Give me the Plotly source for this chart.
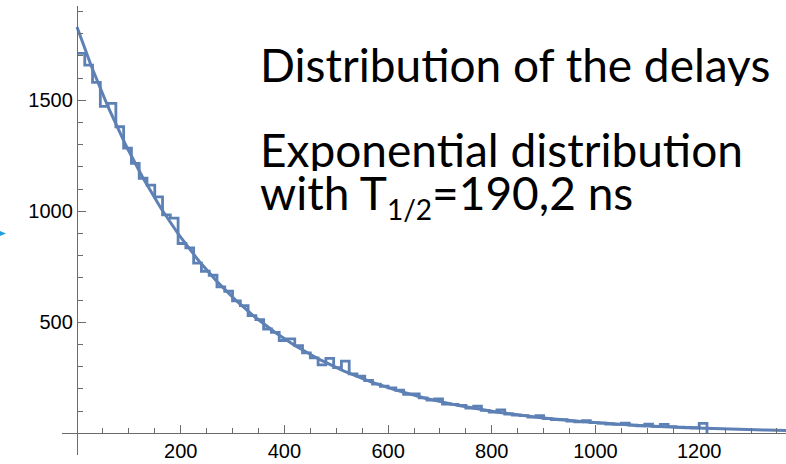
import numpy as np
import plotly.graph_objects as go

# ---- data ----
BIN_WIDTH = 15  # ns per histogram bin
counts = [1712, 1659, 1581, 1473, 1486, 1381, 1285, 1216, 1149, 1118,
          1065, 984, 969, 855, 835, 767, 730, 712, 660, 640,
          597, 575, 530, 512, 470, 455, 418, 425, 395, 362,
          340, 308, 338, 296, 325, 268, 258, 238, 222, 212,
          205, 194, 176, 178, 160, 150, 155, 132, 130, 126,
          114, 122, 103, 96, 106, 87, 82, 80, 73, 80,
          66, 62, 61, 55, 52, 57, 48, 46, 42, 40,
          46, 37, 34, 41, 31, 40, 30, 28, 27, 25, 45]

FIT_AMPLITUDE = 1830.0   # counts at t = 0
HALF_LIFE_NS = 190.2     # T1/2 from the fit

x_major = [200, 400, 600, 800, 1000, 1200]
x_minor = [v for v in range(50, 1351, 50) if v % 200 != 0]
y_major = [500, 1000, 1500]
y_minor = [v for v in range(100, 1901, 100) if v % 500 != 0]

title_lines = ["Distribution of the delays",
               "Exponential distribution",
               "with T<sub><span style='font-size:28px'>1/2</span></sub>=190,2 ns"]

# ---- derived ----
edges = [i * BIN_WIDTH for i in range(len(counts) + 1)]
step_x = edges
step_y = counts + [0]

X_RANGE = [-28.9, 1367.4]
Y_RANGE = [-97.7, 1925.0]
fit_x = np.linspace(0, X_RANGE[1], 400)
fit_y = FIT_AMPLITUDE * np.exp(-np.log(2) * fit_x / HALF_LIFE_NS)

BLUE = "#5e81b5"
AX = "#6b6b6b"
TICKFONT = dict(family="Liberation Sans, Arial, sans-serif", size=20, color="black")
TEXTFONT = dict(family="Lato, sans-serif", size=46, color="black")

fig = go.Figure()
fig.add_trace(go.Scatter(x=step_x, y=step_y, mode="lines", line_shape="hv",
                         line=dict(color=BLUE, width=2.8), hoverinfo="skip"))
fig.add_trace(go.Scatter(x=fit_x, y=fit_y, mode="lines",
                         line=dict(color=BLUE, width=3), hoverinfo="skip"))

W, H = 786, 464
ML, MR, MT, MB = 62, 0, 6, 9
plot_w = W - ML - MR
plot_h = H - MT - MB
x_pos = (0 - X_RANGE[0]) / (X_RANGE[1] - X_RANGE[0])
y_pos = (0 - Y_RANGE[0]) / (Y_RANGE[1] - Y_RANGE[0])

fig.update_layout(
    width=W, height=H,
    margin=dict(l=ML, r=MR, t=MT, b=MB),
    showlegend=False,
    plot_bgcolor="white", paper_bgcolor="white",
    xaxis=dict(range=X_RANGE, anchor="free", position=y_pos, showgrid=False,
               zeroline=False, showline=True, linecolor=AX, linewidth=1.3,
               ticks="inside", ticklen=8, tickwidth=1.3, tickcolor=AX,
               tickmode="array", tickvals=x_major, tickfont=TICKFONT,
               automargin=False,
               minor=dict(tickmode="array", tickvals=x_minor, ticks="inside",
                          ticklen=5, tickwidth=1.3, tickcolor=AX, showgrid=False)),
    yaxis=dict(range=Y_RANGE, anchor="free", position=x_pos, showgrid=False,
               zeroline=False, showline=True, linecolor=AX, linewidth=1.3,
               ticks="inside", ticklen=8, tickwidth=1.3, tickcolor=AX,
               tickmode="array", tickvals=y_major, tickfont=TICKFONT,
               automargin=False,
               minor=dict(tickmode="array", tickvals=y_minor, ticks="inside",
                          ticklen=5, tickwidth=1.3, tickcolor=AX, showgrid=False)),
)

# text annotations (positions in data units)
text_x = 349
text_y = [1664, 1283, 1071]
heights = [44, 44, None]
for t, yy, hh in zip(title_lines, text_y, heights):
    kw = dict(height=hh) if hh else {}
    fig.add_annotation(x=text_x, y=yy, xref="x", yref="y", text=t, showarrow=False,
                       xanchor="left", yanchor="middle", align="left", valign="middle",
                       font=TEXTFONT, **kw)

# small cyan pointer at the left edge
def px_to_paper(px, py):
    return (px - ML) / plot_w, (H - MB - py) / plot_h

p1 = px_to_paper(0, 231)
p2 = px_to_paper(6, 233.5)
p3 = px_to_paper(0, 236)
fig.add_shape(type="path", xref="paper", yref="paper",
              path=f"M {p1[0]},{p1[1]} L {p2[0]},{p2[1]} L {p3[0]},{p3[1]} Z",
              fillcolor="#1fa0e0", line=dict(width=0))

fig.write_html("out.html")
